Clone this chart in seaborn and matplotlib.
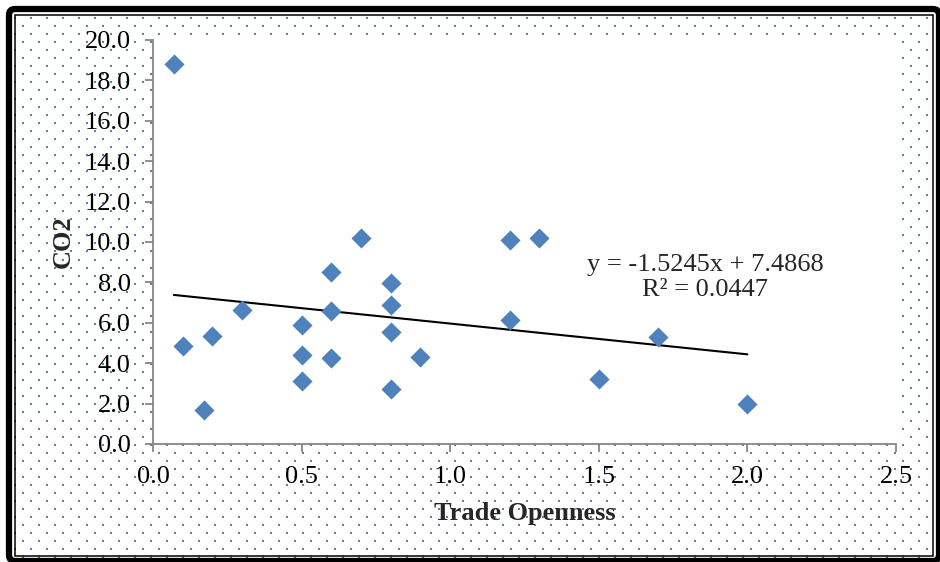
import numpy as np
import pandas as pd
import matplotlib
matplotlib.use("Agg")
import matplotlib.pyplot as plt
from matplotlib.patches import Rectangle, FancyBboxPatch
from matplotlib.ticker import FormatStrFormatter
import seaborn as sns

# Observations: trade openness vs CO2 emissions
trade_openness = [0.07, 0.10, 0.17, 0.20, 0.30, 0.50, 0.50, 0.50, 0.60, 0.60, 0.60,
                  0.70, 0.80, 0.80, 0.80, 0.80, 0.90, 1.20, 1.20, 1.30, 1.50, 1.70, 2.00]
co2 = [18.8, 4.85, 1.7, 5.35, 6.65, 5.9, 4.4, 3.1, 8.5, 6.6, 4.25,
       10.2, 7.95, 6.9, 5.55, 2.7, 4.3, 10.1, 6.15, 10.2, 3.2, 5.3, 2.0]

# Linear trend reported on the chart
slope = -1.5245
intercept = 7.4868
r_squared = 0.0447

x_ticks = [0.0, 0.5, 1.0, 1.5, 2.0, 2.5]
y_ticks = [0, 2, 4, 6, 8, 10, 12, 14, 16, 18, 20]

df = pd.DataFrame({"Trade Openness": trade_openness, "CO2": co2})

sns.set_style("ticks")
plt.rcParams["font.family"] = ["Liberation Serif", "DejaVu Serif"]

W, H = 940, 562
fig = plt.figure(figsize=(W / 100, H / 100), dpi=100)
fig.patch.set_facecolor("white")

# Background layer in pixel units: dotted fill, plot-area panel, frame
bg = fig.add_axes([0, 0, 1, 1], zorder=0)
bg.set_xlim(0, W)
bg.set_ylim(H, 0)
bg.axis("off")

rows = np.arange(18, 560, 8.05)
dot_x, dot_y = [], []
for i, yy in enumerate(rows):
    start = 15 if i % 2 == 0 else 7
    xs = np.arange(start, 935, 16)
    dot_x.extend(xs)
    dot_y.extend([yy] * len(xs))
bg.scatter(dot_x, dot_y, marker="s", s=2.4, color="#4F81BD", linewidths=0)

bg.add_patch(Rectangle((153, 36), 747, 408, facecolor="white", edgecolor="none"))
bg.add_patch(FancyBboxPatch((9, 9), 930, 552, boxstyle="round,pad=0,rounding_size=6",
                            facecolor="none", edgecolor="black", linewidth=4.5))
bg.add_patch(Rectangle((14.5, 14.5), 918.5, 541.5, facecolor="none",
                       edgecolor="black", linewidth=1.1))

# Main chart
ax = fig.add_axes([153 / W, 1 - 444 / H, 743 / W, 404 / H], zorder=1)
ax.set_facecolor("none")

sns.scatterplot(data=df, x="Trade Openness", y="CO2", marker="D", s=105,
                color="#4F81BD", linewidth=0, ax=ax, zorder=3)

trend_x = np.array([min(trade_openness), max(trade_openness)])
sns.lineplot(x=trend_x, y=slope * trend_x + intercept, color="black",
             linewidth=1.5, ax=ax, zorder=2)

ax.set_xlim(0, 2.5)
ax.set_ylim(0, 20)
ax.set_xticks(x_ticks)
ax.set_yticks(y_ticks)
ax.xaxis.set_major_formatter(FormatStrFormatter("%.1f"))
ax.yaxis.set_major_formatter(FormatStrFormatter("%.1f"))

for side in ("top", "right"):
    ax.spines[side].set_visible(False)
for side in ("left", "bottom"):
    ax.spines[side].set_color("#868686")
    ax.spines[side].set_linewidth(1.3)

ax.tick_params(axis="both", direction="out", length=6, width=1.3, color="#868686",
               labelsize=19, labelcolor="black")
ax.tick_params(axis="y", pad=10)
ax.tick_params(axis="x", pad=9.5)

ax.set_xlabel("Trade Openness", fontsize=19, fontweight="bold")
ax.set_ylabel("CO2", fontsize=19, fontweight="bold")
ax.xaxis.label.set_va("center")
ax.yaxis.label.set_va("center")
ax.xaxis.set_label_coords(0.5, -0.173)
ax.yaxis.set_label_coords(-0.1205, 0.5)

eq = f"y = {slope:.4f}x + {intercept:.4f}\nR² = {r_squared:.4f}"
ax.text(1.857, 8.25, eq, ha="center", va="center", multialignment="center",
        fontsize=19, linespacing=1.15)

fig.savefig("out.png", dpi=100)
